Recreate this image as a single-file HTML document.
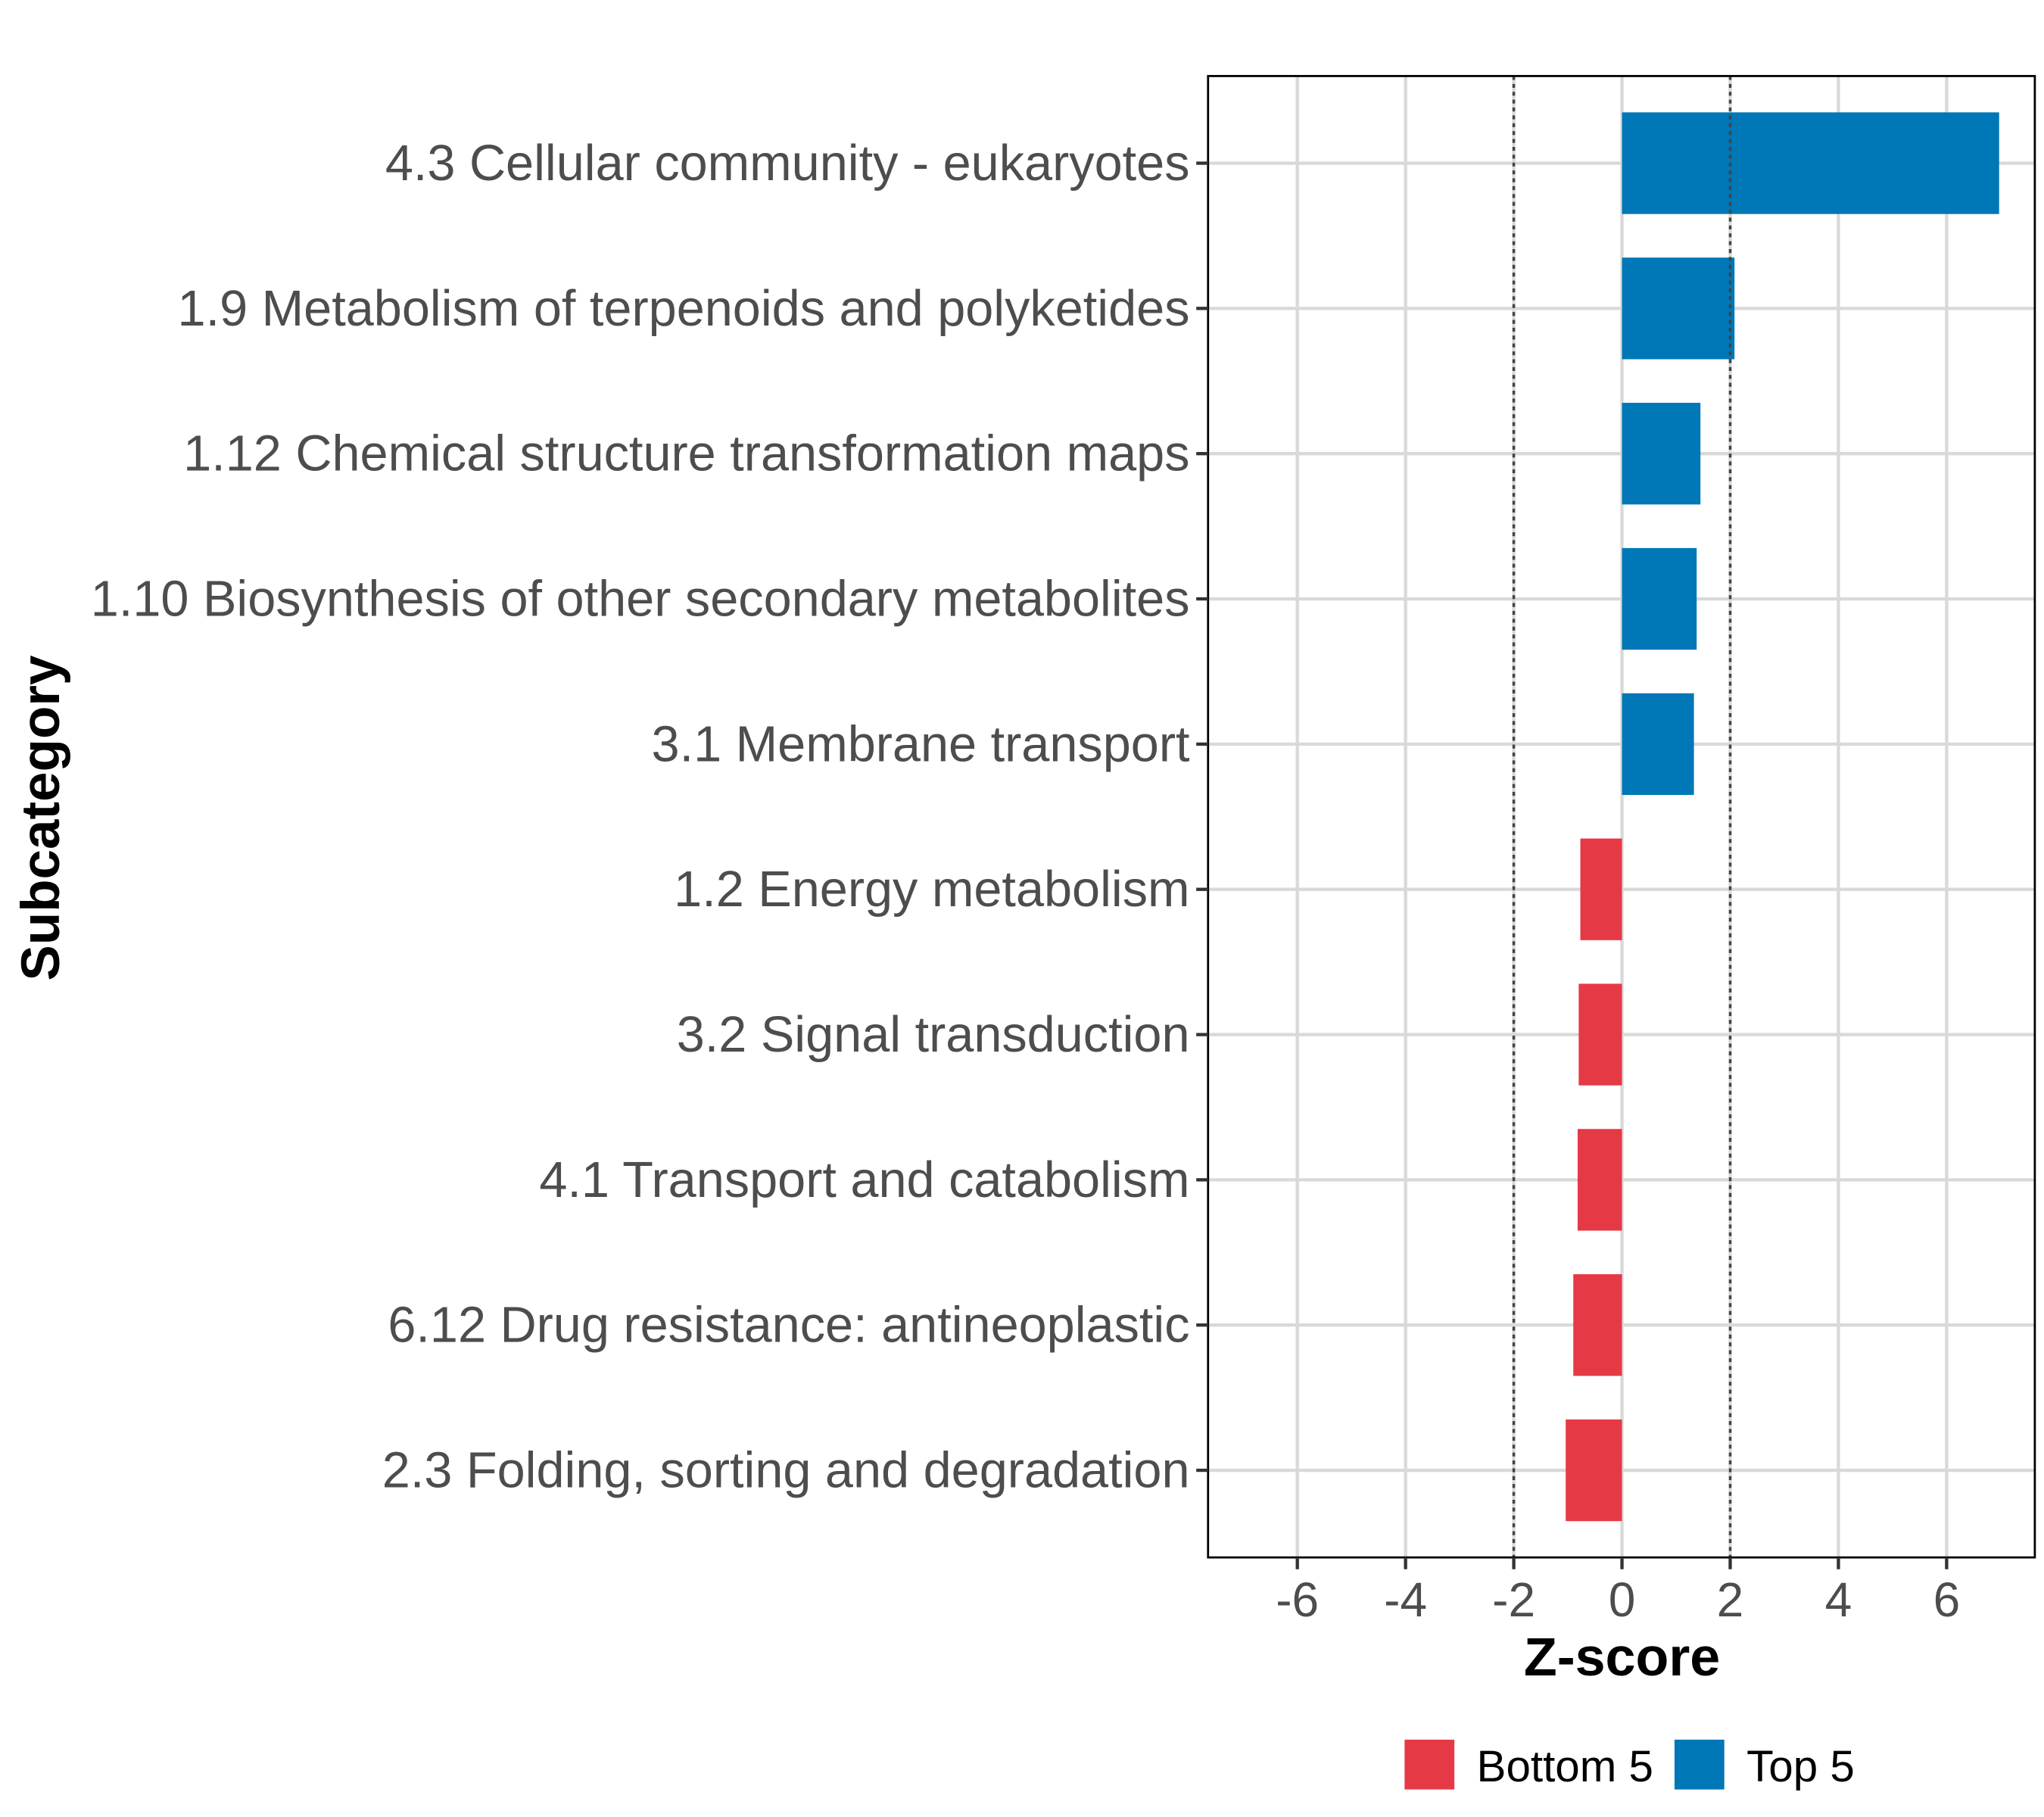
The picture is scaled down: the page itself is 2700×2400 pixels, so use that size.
<!DOCTYPE html>
<html><head><meta charset="utf-8"><style>
html,body{margin:0;padding:0;background:#fff;}
svg{display:block;font-family:"Liberation Sans",Arial,sans-serif;}
</style></head><body>
<svg id="chart" width="2700" height="2400" viewBox="0 0 1560 1386" preserveAspectRatio="none" xmlns="http://www.w3.org/2000/svg">
<rect width="1560" height="1386" fill="#fff"/>
<g id="grid"></g><g id="bars"></g><g id="axes"></g>
</svg>
<script>
const categories = ["4.3 Cellular community - eukaryotes","1.9 Metabolism of terpenoids and polyketides","1.12 Chemical structure transformation maps","1.10 Biosynthesis of other secondary metabolites","3.1 Membrane transport","1.2 Energy metabolism","3.2 Signal transduction","4.1 Transport and catabolism","6.12 Drug resistance: antineoplastic","2.3 Folding, sorting and degradation"];
const zscores = [6.97, 2.08, 1.45, 1.38, 1.33, -0.77, -0.8, -0.82, -0.9, -1.04];
const groups = ["Top 5","Top 5","Top 5","Top 5","Top 5","Bottom 5","Bottom 5","Bottom 5","Bottom 5","Bottom 5"];
const xTicks = [-6,-4,-2,0,2,4,6];
const thresholds = [-2, 2];
const legendLabels = ["Bottom 5","Top 5"];

const NS="http://www.w3.org/2000/svg";
const P={l:922,r:1553,t:58,b:1188};
const xmin=-7.65,xmax=7.63;
const x=v=>P.l+(v-xmin)/(xmax-xmin)*(P.r-P.l);
const step=(P.b-P.t)/(categories.length+0.2);
const y=i=>P.t+step*(i+0.6);
const colors={"Top 5":"#0077b6","Bottom 5":"#e63946"};
function mk(tag,attrs,parent,text){const e=document.createElementNS(NS,tag);for(const k in attrs)e.setAttribute(k,attrs[k]);if(text!==undefined)e.textContent=text;parent.appendChild(e);return e;}
const grid=document.getElementById('grid'),bars=document.getElementById('bars'),axes=document.getElementById('axes');
xTicks.forEach(t=>{const l=mk('line',{x1:x(t),x2:x(t),y1:P.t,y2:P.b,stroke:'#d9d9d9','stroke-width':2.5},grid);

});
categories.forEach((c,i)=>{const l=mk('line',{x1:P.l,x2:P.r,y1:y(i),y2:y(i),stroke:'#d9d9d9','stroke-width':2.5},grid);

});
const bh=step*0.7;
zscores.forEach((v,i)=>{const x0=Math.min(x(0),x(v)),w=Math.abs(x(v)-x(0));
const r=mk('rect',{x:x0,y:y(i)-bh/2,width:w,height:bh,fill:colors[groups[i]]},bars);

});
thresholds.forEach(t=>{const l=mk('line',{x1:x(t),x2:x(t),y1:P.t,y2:P.b,stroke:'#444','stroke-width':2,'stroke-dasharray':'3,3'},axes);

});
const fr=mk('rect',{x:P.l,y:P.t,width:P.r-P.l,height:P.b-P.t,fill:'none',stroke:'#000','stroke-width':1.6},axes);


categories.forEach((c,i)=>{mk('line',{x1:P.l-9,x2:P.l,y1:y(i),y2:y(i),stroke:'#333','stroke-width':2.5},axes);
const t=mk('text',{x:P.l-14,y:y(i)+13,'text-anchor':'end','font-size':38.5,fill:'#4d4d4d'},axes,c);

});
xTicks.forEach(v=>{mk('line',{x1:x(v),x2:x(v),y1:P.b,y2:P.b+9,stroke:'#333','stroke-width':2.5},axes);
const t=mk('text',{x:x(v),y:P.b+45,'text-anchor':'middle','font-size':37,fill:'#4d4d4d'},axes,String(v));

});
const xt=mk('text',{x:x(0),y:1278,'text-anchor':'middle','font-size':41.5,'font-weight':'bold',fill:'#000'},axes,'Z-score');


const yt=mk('text',{x:0,y:0,'text-anchor':'middle','font-size':41,'font-weight':'bold',fill:'#000',transform:'translate(45,624) rotate(-90)'},axes,'Subcategory');


const lx=[1072,1278];
legendLabels.forEach((g,i)=>{const r=mk('rect',{x:lx[i],y:1327,width:38,height:38,fill:colors[g]},axes);


const t=mk('text',{x:lx[i]+55,y:1359,'font-size':33.7,fill:'#000'},axes,g);

});
</script>
</body></html>
